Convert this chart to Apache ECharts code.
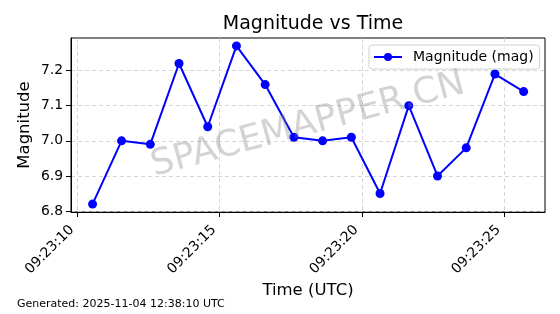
<!DOCTYPE html>
<html><head><meta charset="utf-8">
<script src="https://cdn.jsdelivr.net/npm/echarts@6/dist/echarts.min.js"></script>
<style>html,body{margin:0;padding:0;background:#fff}#c{width:560px;height:314px}</style>
</head><body><div id="c"></div>
<script>
// seconds past 09:23:00 UTC
var timeSeconds = [10.53, 11.55, 12.56, 13.57, 14.58, 15.59, 16.60, 17.61, 18.62, 19.63, 20.64, 21.65, 22.66, 23.67, 24.68, 25.69];
var magnitudes = [6.82, 7.00, 6.99, 7.22, 7.04, 7.27, 7.16, 7.01, 7.00, 7.01, 6.85, 7.10, 6.90, 6.98, 7.19, 7.14];
var xTicks = [10, 15, 20, 25];
var yTicks = [6.8, 6.9, 7.0, 7.1, 7.2];
var seriesName = 'Magnitude (mag)';

var F = 'DejaVu Sans';
function fmtTime(v){ var s = Math.round(v); return '09:23:' + (s < 10 ? '0' + s : s); }
var data = timeSeconds.map(function(t, i){ return [t, magnitudes[i]]; });

var chart = echarts.init(document.getElementById('c'), null, {renderer: 'canvas'});
chart.setOption({
  animation: false,
  textStyle: {fontFamily: F},
  title: {text: 'Magnitude vs Time', left: 308, textAlign: 'center', top: 10,
    textStyle: {fontFamily: F, fontSize: 19, fontWeight: 'normal', color: '#000'}},
  grid: {left: 71, right: 15, top: 38, bottom: 102, show: true, borderColor: '#000', borderWidth: 1},
  legend: {left: 369, top: 45, padding: [5, 6, 5, 4], borderColor: '#d0d0d0', borderWidth: 1, borderRadius: 3,
    backgroundColor: 'rgba(255,255,255,0.8)', itemWidth: 28, itemHeight: 10, itemGap: 8,
    textStyle: {fontFamily: F, fontSize: 14, color: '#000', padding: [0, 0, 0, 6]}, data: [seriesName]},
  xAxis: {type: 'value', min: 9.772, max: 26.44,
    name: 'Time (UTC)', nameLocation: 'middle', nameGap: 70, nameMoveOverlap: false,
    nameTextStyle: {fontFamily: F, fontSize: 16.5, color: '#000'},
    axisLine: {show: true, lineStyle: {color: '#000', width: 1}},
    axisTick: {show: true, length: 5, lineStyle: {color: '#000'}, customValues: xTicks},
    axisLabel: {rotate: 45, margin: 10, padding: [0, 8, 0, 0], fontFamily: F, fontSize: 13.9, color: '#000', formatter: fmtTime, customValues: xTicks},
    splitLine: {show: true, lineStyle: {color: '#cccccc', type: [4, 3], width: 0.8}}},
  yAxis: {type: 'value', min: 6.7975, max: 7.2925,
    name: 'Magnitude', nameLocation: 'middle', nameGap: 38, nameRotate: 90, nameMoveOverlap: false,
    nameTextStyle: {fontFamily: F, fontSize: 16.5, color: '#000'},
    axisLine: {show: true, lineStyle: {color: '#000', width: 1}},
    axisTick: {show: true, length: 5, lineStyle: {color: '#000'}, customValues: yTicks},
    axisLabel: {margin: 8, fontFamily: F, fontSize: 13.9, color: '#000', formatter: function(v){ return v.toFixed(1); }, customValues: yTicks},
    splitLine: {show: true, lineStyle: {color: '#cccccc', type: [4, 3], width: 0.8}}},
  graphic: [
    {type: 'text', left: 17, top: 299, style: {text: 'Generated: 2025-11-04 12:38:10 UTC', fontFamily: F, fontSize: 11, fill: '#000'}},
    {type: 'text', x: 308, y: 125, rotation: 15 * Math.PI / 180, z: 100,
      style: {text: 'SPACEMAPPER.CN', fontFamily: F, fontSize: 36, fill: 'rgba(128,128,128,0.35)', align: 'center', verticalAlign: 'middle'}}
  ],
  series: [{name: seriesName, type: 'line', data: data, symbol: 'circle', symbolSize: 9,
    itemStyle: {color: '#0000ff'}, lineStyle: {color: '#0000ff', width: 2}, z: 3}]
});
</script></body></html>
